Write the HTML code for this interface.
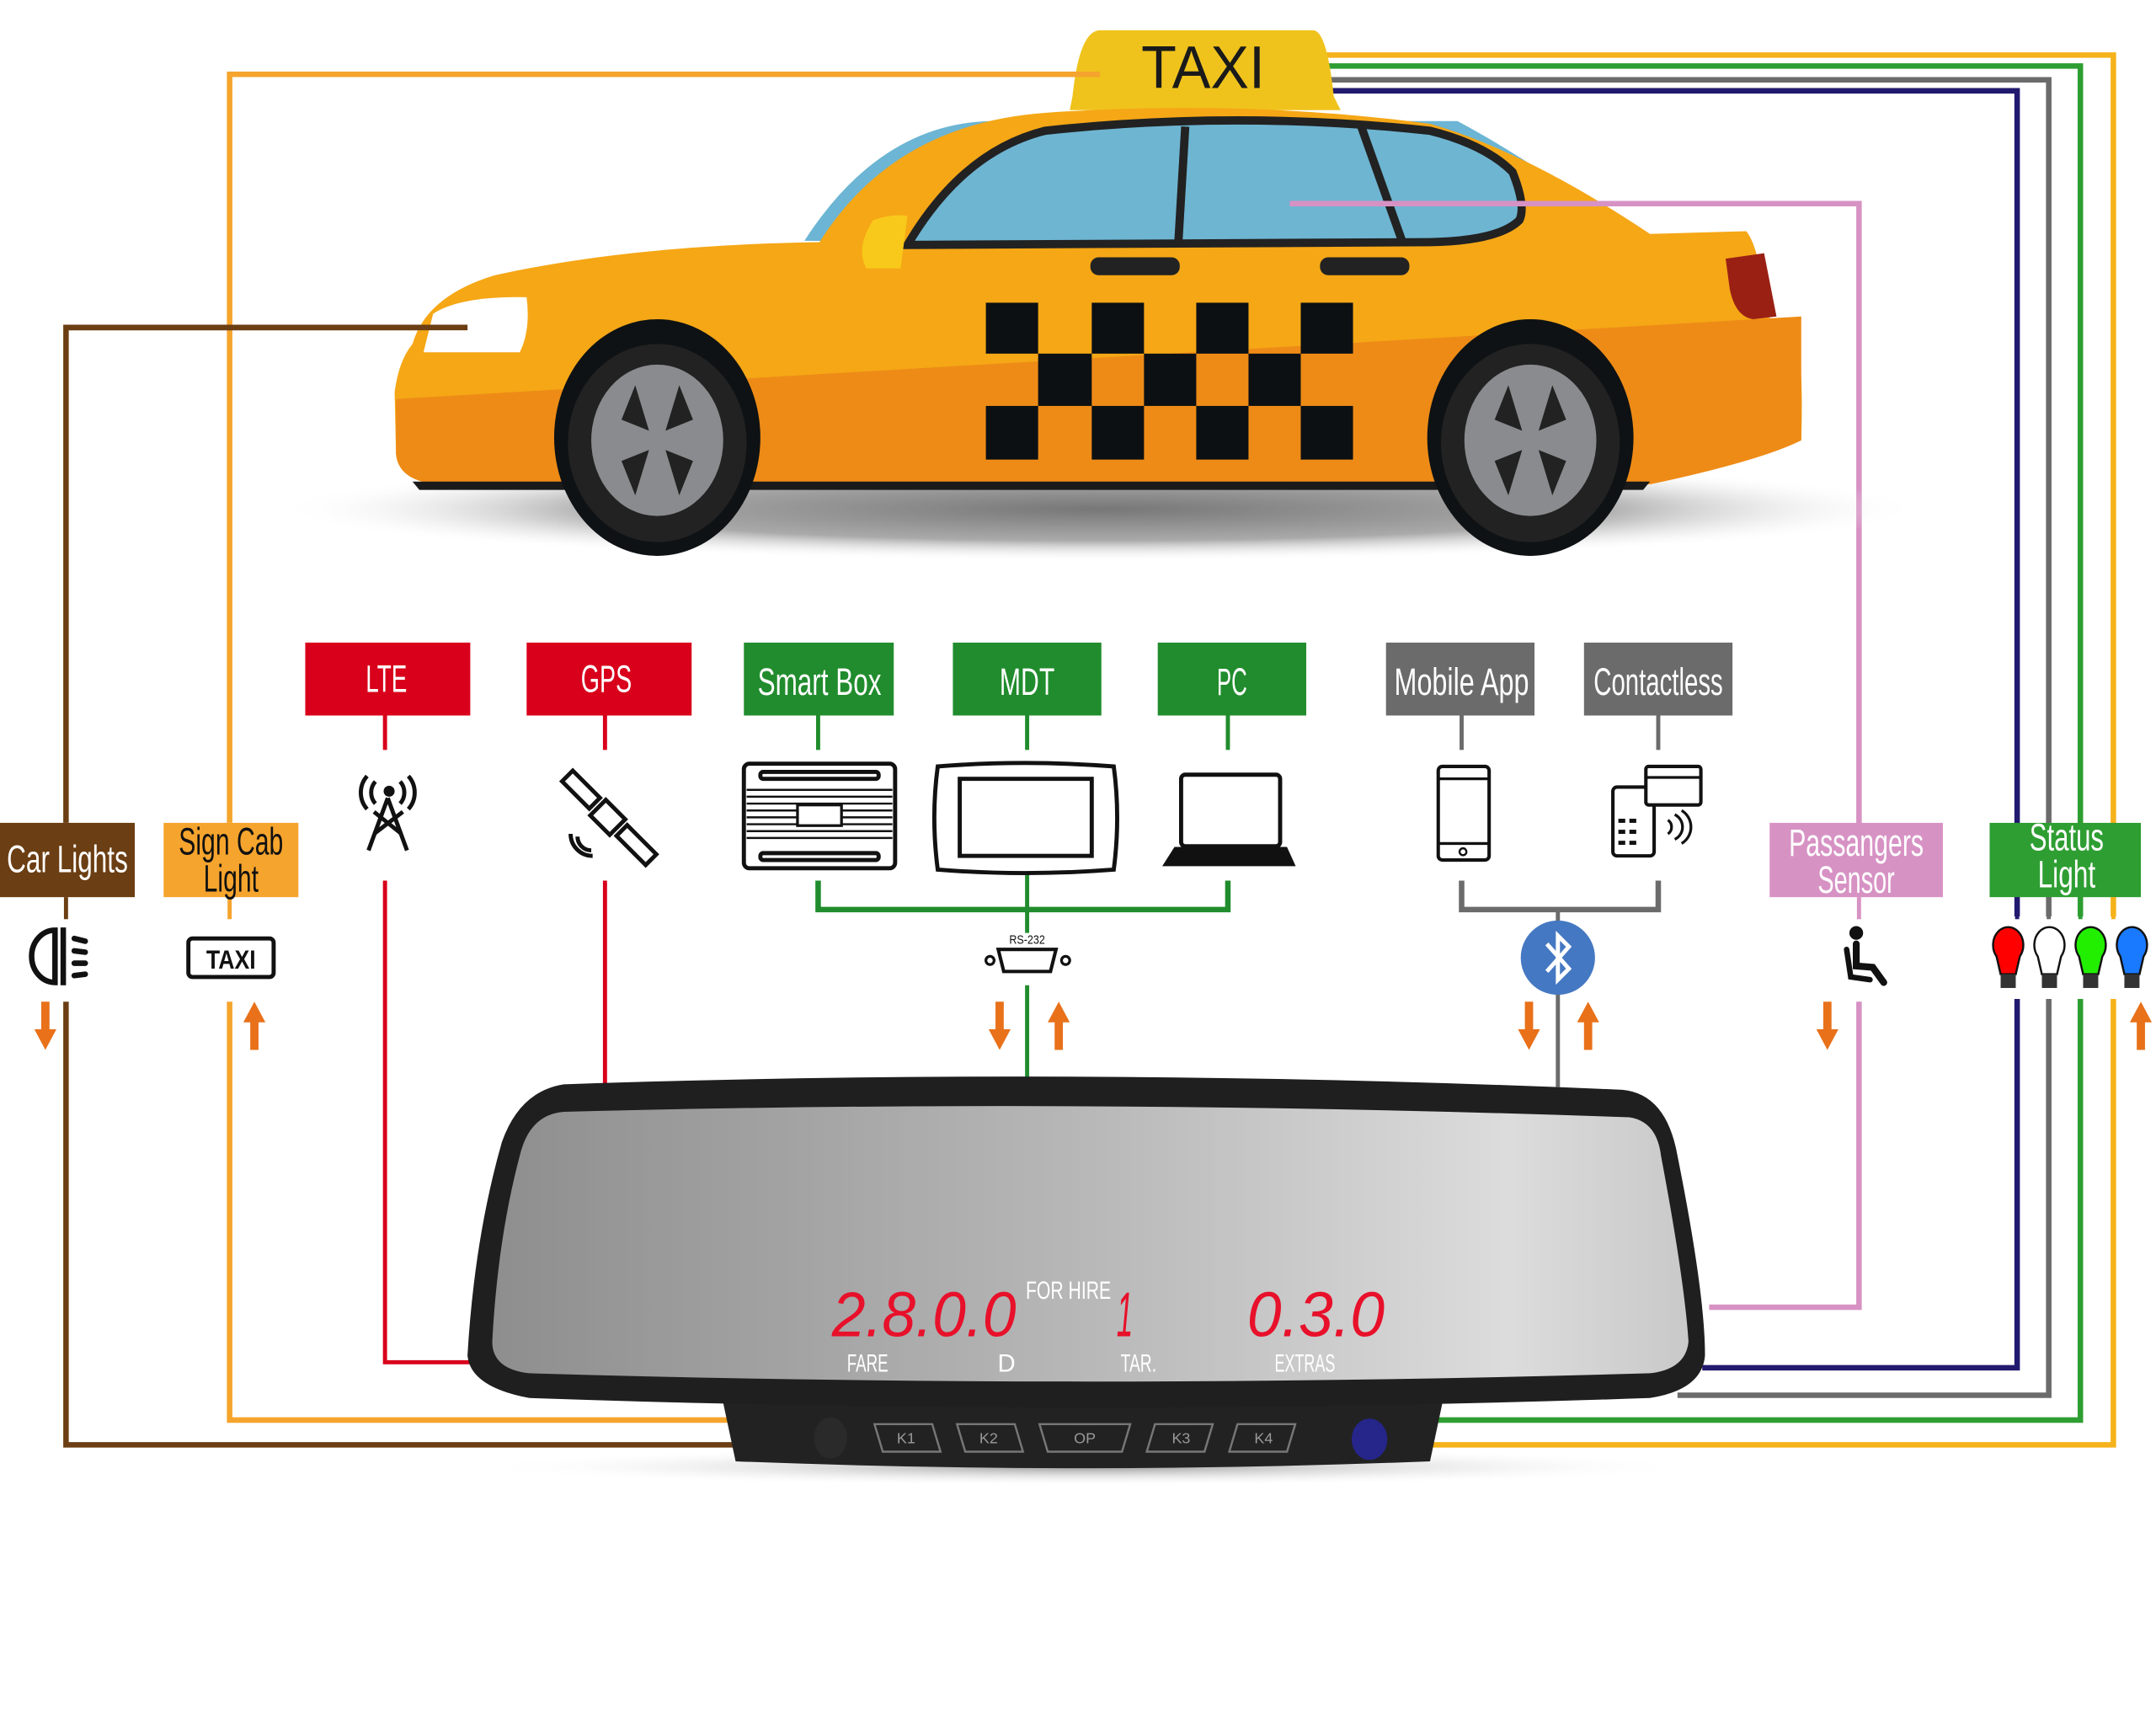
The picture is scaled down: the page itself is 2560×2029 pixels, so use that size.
<!DOCTYPE html>
<html><head><meta charset="utf-8"><style>
html,body{margin:0;padding:0;background:#fff;}
svg{display:block;}
text{font-family:"Liberation Sans",sans-serif;}
</style></head><body>
<svg width="2560" height="2029" viewBox="0 0 1568 1242" preserveAspectRatio="none" xmlns="http://www.w3.org/2000/svg">
<defs>
<radialGradient id="shadow" cx="0.5" cy="0.5" r="0.5"><stop offset="0" stop-color="#777"/><stop offset="0.6" stop-color="#aaa"/><stop offset="1" stop-color="#fff" stop-opacity="0"/></radialGradient>
<linearGradient id="mir" x1="0" y1="0" x2="1" y2="0"><stop offset="0" stop-color="#8e8e8e"/><stop offset="0.5" stop-color="#b8b8b8"/><stop offset="0.85" stop-color="#dcdcdc"/><stop offset="1" stop-color="#c9c9c9"/></linearGradient>
<radialGradient id="mshadow" cx="0.5" cy="0.5" r="0.5"><stop offset="0" stop-color="#999"/><stop offset="1" stop-color="#fff" stop-opacity="0"/></radialGradient>
</defs>

<!-- connectors -->
<g fill="none" stroke-linejoin="miter">
<polyline points="800,54 167,54 167,598" stroke="#f5a42d" stroke-width="4"/>
<polyline points="167,652 167,668" stroke="#f5a42d" stroke-width="3"/>
<polyline points="167,728 167,1032 530,1032" stroke="#f5a42d" stroke-width="4"/>
<polyline points="340,238 48,238 48,598" stroke="#6b3e13" stroke-width="4"/>
<polyline points="48,652 48,668" stroke="#6b3e13" stroke-width="3"/>
<polyline points="48,728 48,1050 535,1050" stroke="#6b3e13" stroke-width="4"/>
<polyline points="965,40 1537,40 1537,1050 1040,1050" stroke="#f5b21a" stroke-width="4"/>
<polyline points="965,48 1513,48 1513,1032 1045,1032" stroke="#2e9e32" stroke-width="4"/>
<polyline points="965,58 1490,58 1490,1014 1220,1014" stroke="#6b6b6b" stroke-width="4"/>
<polyline points="965,66 1467,66 1467,994 1238,994" stroke="#221a6e" stroke-width="4"/>
<polyline points="938,148 1352,148 1352,950 1243,950" stroke="#d792c4" stroke-width="4"/>
<polyline points="280,640 280,990 345,990" stroke="#d9001b" stroke-width="3"/>
<line x1="440" y1="640" x2="440" y2="788" stroke="#d9001b" stroke-width="3"/>
<line x1="280" y1="520" x2="280" y2="545" stroke="#d9001b" stroke-width="3"/>
<line x1="440" y1="520" x2="440" y2="545" stroke="#d9001b" stroke-width="3"/>
<g stroke="#218c2d" stroke-width="3">
<line x1="595" y1="520" x2="595" y2="545"/><line x1="747" y1="520" x2="747" y2="545"/><line x1="893" y1="520" x2="893" y2="545"/>
<line x1="747" y1="635" x2="747" y2="678"/><line x1="747" y1="716" x2="747" y2="788"/>
</g>
<polyline points="595,640 595,661 893,661 893,640" stroke="#218c2d" stroke-width="4"/>
<g stroke="#6b6b6b" stroke-width="3">
<line x1="1063" y1="520" x2="1063" y2="545"/><line x1="1206" y1="520" x2="1206" y2="545"/>
<line x1="1133" y1="661" x2="1133" y2="790"/>
</g>
<polyline points="1063,640 1063,661 1206,661 1206,640" stroke="#6b6b6b" stroke-width="4"/>
</g>
<rect x="1340" y="652" width="30" height="76" fill="#fff"/>
<rect x="1444" y="666" width="124" height="60" fill="#fff"/>
<g stroke-width="3"><line x1="1352" y1="652" x2="1352" y2="668" stroke="#d792c4"/><line x1="1352" y1="728" x2="1352" y2="740" stroke="#d792c4"/></g>

<!-- Taxi car -->
<ellipse cx="800" cy="370" rx="600" ry="38" fill="url(#shadow)"/>
<path d="M780,70 Q785,22 800,22 L955,22 Q965,22 970,70 L975,80 L778,80 Z" fill="#efc31c"/>
<text x="875" y="64" font-size="44" text-anchor="middle" fill="#1a1a1a" textLength="90" lengthAdjust="spacingAndGlyphs">TAXI</text>
<path d="M585,175 Q640,90 720,88 L1060,88 Q1120,120 1200,180 Z" fill="#6cb5d4"/>
<path d="M596,176 Q650,90 760,82 Q905,72 1040,90 Q1110,110 1200,170 L1270,168 Q1280,180 1285,230 L1305,240 Q1312,260 1310,320 Q1280,335 1200,350 L320,352 Q290,350 288,330 L287,285 Q290,262 300,250 Q310,215 360,200 Q460,178 596,176 Z" fill="#f5a716"/>
<path d="M288,290 L1310,230 L1310,320 Q1280,335 1200,352 L320,352 Q290,350 288,330 Z" fill="#ee8b16"/>
<path d="M300,350 L1200,350 L1195,356 L305,356 Z" fill="#1a1a1a"/>
<path d="M660,178 Q700,110 760,95 Q900,80 1040,95 Q1080,105 1100,125 Q1110,150 1105,160 Q1090,175 1040,176 Z" fill="#6eb5d2" stroke="#222" stroke-width="6"/>
<line x1="862" y1="92" x2="857" y2="176" stroke="#222" stroke-width="6"/>
<line x1="990" y1="92" x2="1020" y2="176" stroke="#222" stroke-width="6"/>
<path d="M635,160 Q650,155 660,157 L655,195 L630,195 Q622,180 635,160 Z" fill="#f8c91a"/>
<path d="M315,228 Q335,215 383,216 Q386,240 378,256 L308,256 Z" fill="#fff"/>
<path d="M1255,188 L1283,184 L1292,230 L1275,232 Q1262,230 1258,210 Z" fill="#9a2014"/>
<rect x="793" y="187" width="65" height="13" rx="6" fill="#222"/>
<rect x="960" y="187" width="65" height="13" rx="6" fill="#222"/>
<g fill="#0c1013">
<rect x="717" y="220" width="38" height="37"/><rect x="794" y="220" width="38" height="37"/><rect x="870" y="220" width="38" height="37"/><rect x="946" y="220" width="38" height="37"/>
<rect x="755" y="257" width="39" height="38"/><rect x="832" y="257" width="38" height="38"/><rect x="908" y="257" width="38" height="38"/>
<rect x="717" y="295" width="38" height="39"/><rect x="794" y="295" width="38" height="39"/><rect x="870" y="295" width="38" height="39"/><rect x="946" y="295" width="38" height="39"/>
</g>
<g>
<ellipse cx="478" cy="318" rx="75" ry="86" fill="#0e1214"/><ellipse cx="478" cy="322" rx="65" ry="72" fill="#222"/><ellipse cx="478" cy="320" rx="48" ry="55" fill="#8a8b8e"/>
<g fill="#222"><path d="M462,280 l-10,25 l20,8 z"/><path d="M494,280 l10,25 l-20,8 z"/><path d="M462,360 l-10,-25 l20,-8 z"/><path d="M494,360 l10,-25 l-20,-8 z"/></g>
<ellipse cx="1113" cy="318" rx="75" ry="86" fill="#0e1214"/><ellipse cx="1113" cy="322" rx="65" ry="72" fill="#222"/><ellipse cx="1113" cy="320" rx="48" ry="55" fill="#8a8b8e"/>
<g fill="#222"><path d="M1097,280 l-10,25 l20,8 z"/><path d="M1129,280 l10,25 l-20,8 z"/><path d="M1097,360 l-10,-25 l20,-8 z"/><path d="M1129,360 l10,-25 l-20,-8 z"/></g>
</g>
<line x1="938" y1="148" x2="1352" y2="148" stroke="#d792c4" stroke-width="4"/>
<line x1="800" y1="54" x2="767" y2="54" stroke="#f5a42d" stroke-width="4"/>
<line x1="48" y1="238" x2="340" y2="238" stroke="#6b3e13" stroke-width="4"/>

<!-- boxes -->
<g font-size="28" fill="#fff" text-anchor="middle" lengthAdjust="spacingAndGlyphs">
<rect x="222" y="467" width="120" height="53" fill="#d9001b"/><text x="281" y="503" textLength="30" lengthAdjust="spacingAndGlyphs">LTE</text>
<rect x="383" y="467" width="120" height="53" fill="#d9001b"/><text x="441" y="503" textLength="37" lengthAdjust="spacingAndGlyphs">GPS</text>
<rect x="541" y="467" width="109" height="53" fill="#218c2d"/><text x="596" y="505" textLength="90" lengthAdjust="spacingAndGlyphs">Smart Box</text>
<rect x="693" y="467" width="108" height="53" fill="#218c2d"/><text x="747" y="505" textLength="40" lengthAdjust="spacingAndGlyphs">MDT</text>
<rect x="842" y="467" width="108" height="53" fill="#218c2d"/><text x="896" y="505" textLength="22" lengthAdjust="spacingAndGlyphs">PC</text>
<rect x="1008" y="467" width="108" height="53" fill="#6b6b6b"/><text x="1063" y="505" textLength="98" lengthAdjust="spacingAndGlyphs">Mobile App</text>
<rect x="1152" y="467" width="108" height="53" fill="#6b6b6b"/><text x="1206" y="505" textLength="94" lengthAdjust="spacingAndGlyphs">Contactless</text>
<rect x="0" y="598" width="98" height="54" fill="#6b3e13"/><text x="49" y="634" textLength="88" lengthAdjust="spacingAndGlyphs">Car Lights</text>
<rect x="119" y="598" width="98" height="54" fill="#f5a42d"/><text x="168" y="621" fill="#111" textLength="76" lengthAdjust="spacingAndGlyphs">Sign Cab</text><text x="168" y="648" fill="#111" textLength="40" lengthAdjust="spacingAndGlyphs">Light</text>
<rect x="1287" y="598" width="126" height="54" fill="#d792c4"/><text x="1350" y="622" textLength="98" lengthAdjust="spacingAndGlyphs">Passangers</text><text x="1350" y="649" textLength="56" lengthAdjust="spacingAndGlyphs">Sensor</text>
<rect x="1447" y="598" width="110" height="54" fill="#2e9e32"/><text x="1503" y="618" textLength="54" lengthAdjust="spacingAndGlyphs">Status</text><text x="1503" y="645" textLength="42" lengthAdjust="spacingAndGlyphs">Light</text>
</g>
<g stroke-width="3"><line x1="1467" y1="652" x2="1467" y2="668" stroke="#221a6e"/><line x1="1490" y1="652" x2="1490" y2="668" stroke="#6b6b6b"/><line x1="1513" y1="652" x2="1513" y2="668" stroke="#2e9e32"/><line x1="1537" y1="652" x2="1537" y2="668" stroke="#f5b21a"/></g>

<!-- icons -->
<g fill="none" stroke="#111" stroke-width="3">
<path d="M40,676 A17,19 0 0 0 40,714 L40,676 Z" stroke-width="4"/>
<path d="M46,674 L46,716" stroke-width="4"/>
<g stroke-width="4" stroke-linecap="round"><line x1="54" y1="682" x2="62" y2="684"/><line x1="54" y1="691" x2="62" y2="692"/><line x1="54" y1="700" x2="62" y2="700"/><line x1="54" y1="709" x2="62" y2="708"/></g>
<rect x="137" y="682" width="62" height="28" rx="3"/>
<g stroke-width="3"><line x1="282" y1="580" x2="268" y2="618"/><line x1="282" y1="580" x2="296" y2="618"/><line x1="272" y1="606" x2="293" y2="590"/><line x1="292" y1="606" x2="272" y2="590"/>
<path d="M273,568 a12,12 0 0 0 0,16"/><path d="M291,568 a12,12 0 0 1 0,16"/><path d="M267,564 a18,18 0 0 0 0,24"/><path d="M297,564 a18,18 0 0 1 0,24"/></g>
<g transform="rotate(-45 442 594)"><rect x="437" y="552" width="11" height="28"/><rect x="434" y="584" width="16" height="20"/><rect x="437" y="608" width="11" height="30"/></g>
<path d="M420,608 a10,10 0 0 0 10,10"/><path d="M415,606 a16,16 0 0 0 16,16"/>
<rect x="541" y="555" width="110" height="76" rx="4" stroke-width="3"/>
<rect x="553" y="561" width="86" height="5" rx="2"/><rect x="553" y="620" width="86" height="5" rx="2"/>
<g stroke-width="1.5"><line x1="543" y1="574" x2="649" y2="574"/><line x1="543" y1="579" x2="649" y2="579"/><line x1="543" y1="584" x2="649" y2="584"/><line x1="543" y1="589" x2="649" y2="589"/><line x1="543" y1="594" x2="649" y2="594"/><line x1="543" y1="599" x2="649" y2="599"/><line x1="543" y1="604" x2="649" y2="604"/><line x1="543" y1="609" x2="649" y2="609"/></g>
<rect x="580" y="585" width="32" height="15" fill="#fff" stroke-width="2"/>
<path d="M682,557 Q745,552 810,557 Q815,594 810,632 Q745,637 682,632 Q677,594 682,557 Z" stroke-width="3"/>
<rect x="698" y="566" width="96" height="56" stroke-width="3"/>
<rect x="859" y="563" width="72" height="52" rx="3" stroke-width="3"/>
<path d="M855,617 L935,617 L940,628 L848,628 Z" fill="#111"/>
<rect x="1046" y="557" width="37" height="68" rx="3" stroke-width="2.5"/><line x1="1046" y1="566" x2="1083" y2="566" stroke-width="2"/><line x1="1046" y1="613" x2="1083" y2="613" stroke-width="2"/><circle cx="1064" cy="619" r="2.5" stroke-width="1.5"/>
<rect x="1173" y="572" width="30" height="50" rx="3" stroke-width="2.5"/><rect x="1197" y="557" width="40" height="28" rx="2" stroke-width="2.5" fill="#fff"/><line x1="1197" y1="565" x2="1237" y2="565" stroke-width="2"/>
<path d="M1213,596 a6,6 0 0 1 0,10" stroke-width="2"/><path d="M1218,592 a10,10 0 0 1 0,18" stroke-width="2"/><path d="M1223,589 a14,14 0 0 1 0,24" stroke-width="2"/>
<path d="M1350,686 L1350,702 L1362,703 L1370,714" stroke-width="5" stroke-linecap="round"/><path d="M1343,690 L1346,710 L1360,712" stroke-width="4" stroke-linecap="round"/>
</g>
<text x="168" y="704" font-size="19" text-anchor="middle" font-weight="bold" fill="#111" textLength="36" lengthAdjust="spacingAndGlyphs">TAXI</text>
<circle cx="283" cy="575" r="4" fill="#111"/>
<g fill="#111"><rect x="1177" y="595" width="5" height="3"/><rect x="1185" y="595" width="5" height="3"/><rect x="1177" y="603" width="5" height="3"/><rect x="1185" y="603" width="5" height="3"/><rect x="1177" y="611" width="5" height="3"/><rect x="1185" y="611" width="5" height="3"/></g>
<circle cx="1350" cy="678" r="5" fill="#111"/>
<text x="747" y="686" font-size="9" text-anchor="middle" fill="#111" textLength="26" lengthAdjust="spacingAndGlyphs">RS-232</text>
<path d="M726,690 L768,690 L764,706 L730,706 Z" fill="#fff" stroke="#111" stroke-width="2.5"/>
<circle cx="720" cy="698" r="3" fill="none" stroke="#111" stroke-width="2"/><circle cx="775" cy="698" r="3" fill="none" stroke="#111" stroke-width="2"/>
<ellipse cx="1133" cy="696" rx="27" ry="27" fill="#4478c2"/>
<path d="M1125,686 L1141,704 L1133,712 L1133,680 L1141,688 L1125,706" fill="none" stroke="#fff" stroke-width="3"/>
<g stroke="#111" stroke-width="1.5">
<path d="M1452,695 a11,13 0 1 1 17,0 L1466,708 L1455,708 Z" fill="#ff0000"/>
<path d="M1482,695 a11,13 0 1 1 17,0 L1496,708 L1485,708 Z" fill="#fff"/>
<path d="M1512,695 a11,13 0 1 1 17,0 L1526,708 L1515,708 Z" fill="#22ee00"/>
<path d="M1542,695 a11,13 0 1 1 17,0 L1556,708 L1545,708 Z" fill="#1a7aff"/>
</g>
<g fill="#333"><rect x="1455" y="708" width="11" height="10"/><rect x="1485" y="708" width="11" height="10"/><rect x="1515" y="708" width="11" height="10"/><rect x="1545" y="708" width="11" height="10"/></g>
<g stroke-width="3"><line x1="1467" y1="726" x2="1467" y2="740" stroke="#221a6e"/><line x1="1490" y1="726" x2="1490" y2="740" stroke="#6b6b6b"/><line x1="1513" y1="726" x2="1513" y2="740" stroke="#2e9e32"/><line x1="1537" y1="726" x2="1537" y2="740" stroke="#f5b21a"/></g>

<!-- arrows -->
<g fill="#e8711a">
<path d="M30,728 h6 v20 h5 l-8,15 l-8,-15 h5 z"/>
<path d="M182,763 h6 v-20 h5 l-8,-15 l-8,15 h5 z"/>
<path d="M724,728 h6 v20 h5 l-8,15 l-8,-15 h5 z"/>
<path d="M767,763 h6 v-20 h5 l-8,-15 l-8,15 h5 z"/>
<path d="M1109,728 h6 v20 h5 l-8,15 l-8,-15 h5 z"/>
<path d="M1152,763 h6 v-20 h5 l-8,-15 l-8,15 h5 z"/>
<path d="M1326,728 h6 v20 h5 l-8,15 l-8,-15 h5 z"/>
<path d="M1554,763 h6 v-20 h5 l-8,-15 l-8,15 h5 z"/>
</g>

<!-- mirror -->
<ellipse cx="790" cy="1066" rx="450" ry="14" fill="url(#mshadow)"/>
<path d="M525,1015 L1050,1015 L1040,1062 Q790,1072 535,1062 Z" fill="#222"/>
<path d="M410,788 Q790,775 1180,792 Q1212,795 1220,840 Q1240,940 1240,985 Q1238,1010 1200,1016 Q790,1030 385,1016 Q342,1008 340,985 Q345,900 365,830 Q378,793 410,788 Z" fill="#1f1f1f"/>
<path d="M410,808 Q790,798 1185,812 Q1205,815 1208,840 Q1225,930 1228,975 Q1226,995 1200,998 Q790,1010 385,998 Q358,995 358,975 Q362,900 378,840 Q385,810 410,808 Z" fill="url(#mir)"/>
<g fill="none" stroke="#777" stroke-width="1.5">
<path d="M636,1035 L678,1035 L684,1055 L642,1055 Z"/><path d="M696,1035 L738,1035 L744,1055 L702,1055 Z"/><path d="M756,1035 L822,1035 L816,1055 L762,1055 Z"/><path d="M840,1035 L882,1035 L876,1055 L834,1055 Z"/><path d="M900,1035 L942,1035 L936,1055 L894,1055 Z"/>
</g>
<g font-size="11" fill="#999" text-anchor="middle"><text x="659" y="1049">K1</text><text x="719" y="1049">K2</text><text x="789" y="1049">OP</text><text x="859" y="1049">K3</text><text x="919" y="1049">K4</text></g>
<ellipse cx="604" cy="1045" rx="12" ry="15" fill="#2a2a2a"/>
<ellipse cx="996" cy="1046" rx="13" ry="15" fill="#25258a"/>
<g fill="#e8102a" font-size="46" font-style="italic" text-anchor="middle">
<text x="672" y="971" textLength="134" lengthAdjust="spacingAndGlyphs">2.8.0.0</text><text x="818" y="971" textLength="12" lengthAdjust="spacingAndGlyphs">1</text><text x="957" y="971" textLength="100" lengthAdjust="spacingAndGlyphs">0.3.0</text>
</g>
<g fill="#fff" font-size="18" text-anchor="middle"><text x="777" y="944" textLength="62" lengthAdjust="spacingAndGlyphs">FOR HIRE</text><text x="631" y="997" textLength="30" lengthAdjust="spacingAndGlyphs">FARE</text><text x="732" y="997">D</text><text x="828" y="997" textLength="26" lengthAdjust="spacingAndGlyphs">TAR.</text><text x="949" y="997" textLength="44" lengthAdjust="spacingAndGlyphs">EXTRAS</text></g>
</svg>
</body></html>
